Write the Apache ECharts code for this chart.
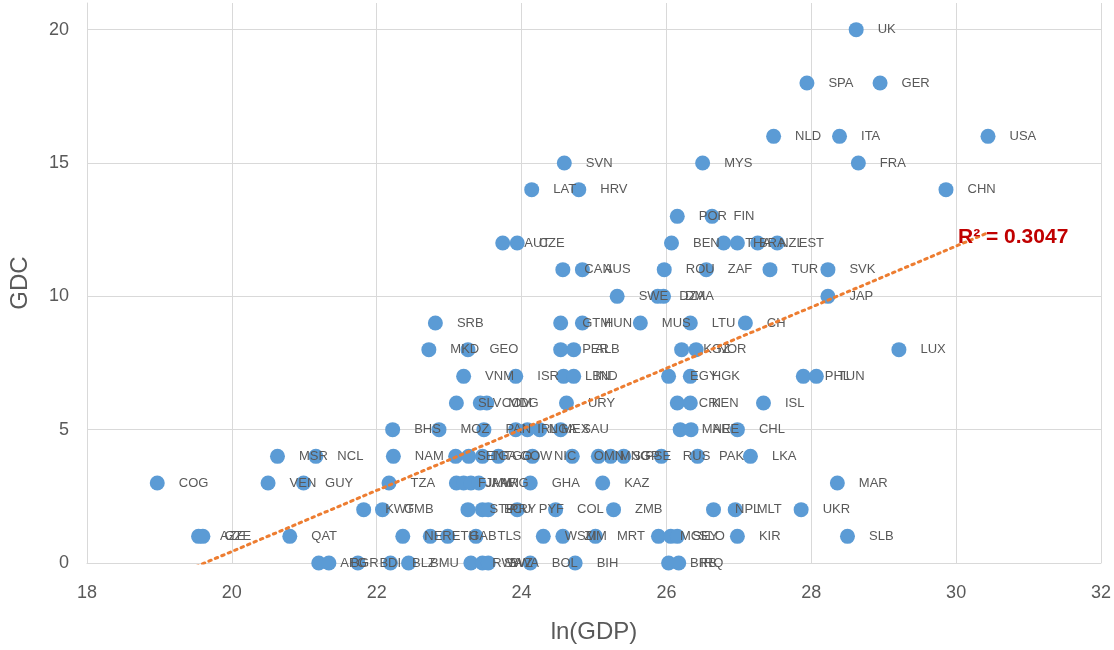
<!DOCTYPE html>
<html><head><meta charset="utf-8">
<script src="https://cdn.jsdelivr.net/npm/echarts@6/dist/echarts.min.js"></script>
<style>html,body{margin:0;padding:0;background:#fff}#c{width:1114px;height:650px}</style>
</head><body><div id="c"></div>
<script>
// Country labels, ln(GDP) (x) and GDC (y), grouped by GDC row
const countries = [
  'UK',
  'SPA','GER',
  'NLD','ITA','USA',
  'SVN','MYS','FRA',
  'LAT','HRV','CHN',
  'POR','FIN',
  'AUT','CZE','BEN','THA','BRA','NZL','EST',
  'CAN','AUS','ROU','ZAF','TUR','SVK',
  'SWE','DZA','DMA','JAP',
  'SRB','GTM','HUN','MUS','LTU','CH',
  'MKD','GEO','PER','ALB','KGZ','NOR','LUX',
  'VNM','ISR','LBN','IND','EGY','HGK','PHL','TUN',
  'SLV','COM','MDG','URY','CRI','KEN','ISL',
  'BHS','MOZ','PAN','IRL','NGA','MEX','SAU','MNE','ARE','CHL',
  'MSR','NCL','NAM','SEN','TGA','TGO','GOW','NIC','OMN','MNG','SGP','PSE','RUS','PAK','LKA',
  'COG','VEN','GUY','TZA','FJI','JAM','MWI','ARG','GHA','KAZ','MAR',
  'KWT','GMB','STP','ECU','PRY','PYF','COL','ZMB','NPL','MLT','UKR',
  'AZE','GZE','QAT','NER','ETH','GAB','TLS','WSM','ZIM','MRT','MGL','SEY','SLO','KIR','SLB',
  'AFG','BGR','BDI','BLZ','BMU','RWA','SWZ','BWA','BOL','BIH','BRB','IRQ'
];
const lnGDP = [
  28.62,
  27.94, 28.95,
  27.48, 28.39, 30.44,
  24.59, 26.50, 28.65,
  24.14, 24.79, 29.86,
  26.15, 26.63,
  23.74, 23.94, 26.07, 26.79, 26.98, 27.26, 27.53,
  24.57, 24.84, 25.97, 26.55, 27.43, 28.23,
  25.32, 25.88, 25.96, 28.23,
  22.81, 24.54, 24.84, 25.64, 26.33, 27.09,
  22.72, 23.26, 24.54, 24.72, 26.21, 26.41, 29.21,
  23.20, 23.92, 24.58, 24.72, 26.03, 26.33, 27.89, 28.07,
  23.10, 23.43, 23.52, 24.62, 26.15, 26.33, 27.34,
  22.22, 22.86, 23.48, 23.92, 24.08, 24.25, 24.54, 26.19, 26.34, 26.98,
  20.63, 21.16, 22.23, 23.09, 23.27, 23.46, 23.68, 24.15, 24.70, 25.06, 25.23, 25.41, 25.93, 26.43, 27.16,
  18.97, 20.50, 20.99, 22.17, 23.10, 23.20, 23.30, 23.41, 24.12, 25.12, 28.36,
  21.82, 22.08, 23.26, 23.46, 23.54, 23.94, 24.47, 25.27, 26.65, 26.95, 27.86,
  19.54, 19.60, 20.80, 22.36, 22.74, 22.98, 23.37, 24.30, 24.57, 25.02, 25.89, 26.06, 26.15, 26.98, 28.50,
  21.20, 21.34, 21.74, 22.19, 22.44, 23.30, 23.46, 23.54, 24.12, 24.74, 26.03, 26.17
];
const gdc = [
  20,
  18, 18,
  16, 16, 16,
  15, 15, 15,
  14, 14, 14,
  13, 13,
  12, 12, 12, 12, 12, 12, 12,
  11, 11, 11, 11, 11, 11,
  10, 10, 10, 10,
  9, 9, 9, 9, 9, 9,
  8, 8, 8, 8, 8, 8, 8,
  7, 7, 7, 7, 7, 7, 7, 7,
  6, 6, 6, 6, 6, 6, 6,
  5, 5, 5, 5, 5, 5, 5, 5, 5, 5,
  4, 4, 4, 4, 4, 4, 4, 4, 4, 4, 4, 4, 4, 4, 4,
  3, 3, 3, 3, 3, 3, 3, 3, 3, 3, 3,
  2, 2, 2, 2, 2, 2, 2, 2, 2, 2, 2,
  1, 1, 1, 1, 1, 1, 1, 1, 1, 1, 1, 1, 1, 1, 1,
  0, 0, 0, 0, 0, 0, 0, 0, 0, 0, 0, 0
];
const xAxisRange = [18, 32, 2];
const yAxisRange = [0, 21, 5];
const xTitle = 'ln(GDP)';
const yTitle = 'GDC';
const r2Text = 'R² = 0.3047';

// Linear least-squares trendline from the data
const n = lnGDP.length;
let sx = 0, sy = 0, sxx = 0, sxy = 0;
for (let i = 0; i < n; i++) {
  sx += lnGDP[i]; sy += gdc[i];
  sxx += lnGDP[i] * lnGDP[i]; sxy += lnGDP[i] * gdc[i];
}
const slope = (n * sxy - sx * sy) / (n * sxx - sx * sx);
const intercept = (sy - slope * sx) / n;
const xMin = Math.min(...lnGDP), xMax = Math.max(...lnGDP);
const trend = [[xMin, slope * xMin + intercept], [xMax, slope * xMax + intercept]];

const FONT = '"Liberation Sans", Arial, sans-serif';
const TXT = '#595959';
const GRID = '#d9d9d9';

const chart = echarts.init(document.getElementById('c'), null, {renderer: 'canvas'});
chart.setOption({
  animation: false,
  backgroundColor: '#fff',
  textStyle: {fontFamily: FONT},
  grid: {left: 86, right: 13, top: 3, bottom: 87},
  xAxis: {
    type: 'value', min: xAxisRange[0], max: xAxisRange[1], interval: xAxisRange[2],
    axisLine: {show: true, lineStyle: {color: GRID}},
    axisTick: {show: false},
    axisLabel: {color: TXT, fontSize: 18, margin: 21, fontFamily: FONT},
    splitLine: {show: true, lineStyle: {color: GRID, width: 1}},
    name: xTitle, nameLocation: 'middle', nameGap: 57,
    nameTextStyle: {color: TXT, fontSize: 24, fontFamily: FONT}
  },
  yAxis: {
    type: 'value', min: yAxisRange[0], max: yAxisRange[1], interval: yAxisRange[2],
    axisLine: {show: true, lineStyle: {color: GRID}},
    axisTick: {show: false},
    axisLabel: {color: TXT, fontSize: 18, margin: 18, showMaxLabel: false, fontFamily: FONT},
    splitLine: {show: true, showMaxLine: false, lineStyle: {color: GRID, width: 1}},
    name: yTitle, nameLocation: 'middle', nameGap: 55,
    nameTextStyle: {color: TXT, fontSize: 24, fontFamily: FONT}
  },
  series: [
    {
      type: 'scatter',
      symbol: 'circle',
      symbolSize: 15,
      itemStyle: {color: '#5B9BD5', opacity: 1},
      data: lnGDP.map((x, i) => [x, gdc[i], countries[i]]),
      label: {
        show: true, position: 'right', distance: 14,
        formatter: p => p.value[2],
        color: TXT, fontSize: 13, fontFamily: FONT
      },
      emphasis: {disabled: true},
      z: 2
    },
    {
      type: 'line',
      data: trend,
      symbol: 'none',
      clip: true,
      lineStyle: {color: '#ED7D31', width: 3, type: [2.5, 4.5], cap: 'round'},
      silent: true,
      z: 4
    }
  ],
  graphic: [
    {
      type: 'text', left: 958, top: 227, z: 10,
      style: {text: r2Text, fill: '#C00000', fontSize: 21, fontWeight: 'bold', fontFamily: FONT}
    }
  ]
});
</script>
</body></html>
